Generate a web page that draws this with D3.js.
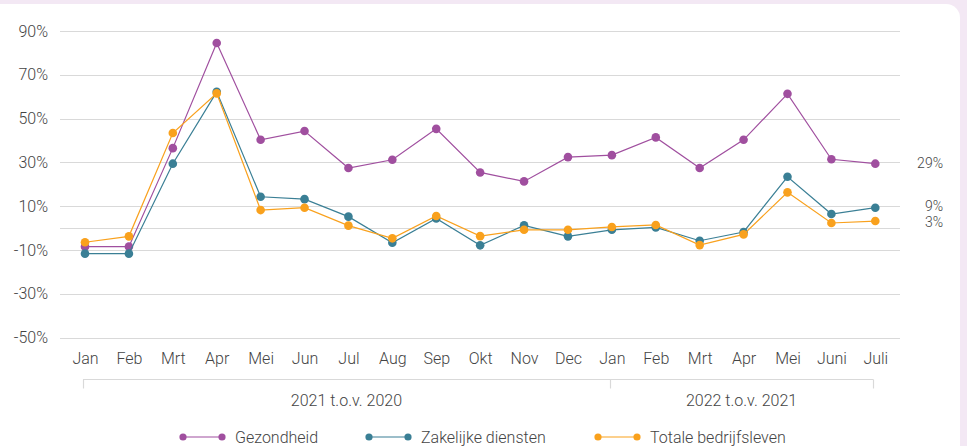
<!DOCTYPE html>
<html>
<head>
<meta charset="utf-8">
<script src="https://cdn.jsdelivr.net/npm/d3@7"></script>
<style>
  html,body{margin:0;padding:0;background:#f3e8f4;}
  #chart{position:absolute;left:0;top:4px;width:960px;height:442px;background:#fff;border-top-right-radius:14px;}
  svg{font-family:Roboto,"Noto Sans",sans-serif;font-weight:300;}
</style>
</head>
<body>
<div id="chart"></div>
<script>
// Maandelijkse verandering t.o.v. vorig jaar, per sector
const months = ['Jan','Feb','Mrt','Apr','Mei','Jun','Jul','Aug','Sep','Okt','Nov','Dec',
                'Jan','Feb','Mrt','Apr','Mei','Juni','Juli'];
const gezondheid = [-8.5,-8.5,36.5,84.5,40.3,44.3,27.4,31.2,45.3,25.4,21.3,32.4,33.3,41.4,27.4,40.3,61.3,31.4,29.4];
const zakelijk   = [-11.7,-11.7,29.4,62.2,14.3,13.2,5.2,-6.7,4.4,-7.9,1.2,-3.8,-0.8,0.3,-5.8,-1.8,23.4,6.4,9.3];
const totaal     = [-6.5,-3.8,43.4,61.5,8.2,9.3,1.1,-4.7,5.5,-3.7,-0.8,-0.8,0.5,1.4,-7.8,-2.9,16.3,2.3,3.2];
const seriesNames = ['Gezondheid','Zakelijke diensten','Totale bedrijfsleven'];
const endLabels = ['29%','9%','3%'];
const yTicks = [90,70,50,30,10,-10,-30,-50];
const groups = [
  {label:'2021 t.o.v. 2020', from:0, to:12},
  {label:'2022 t.o.v. 2021', from:12, to:18}
];

(function(){
  const colors = ['#a04f9f','#3a7f95','#f9a11d'];
  const series = [gezondheid, zakelijk, totaal];
  const W = 960, H = 442;
  const svg = d3.select('#chart').append('svg').attr('width',W).attr('height',H);

  const x = d3.scalePoint().domain(d3.range(months.length)).range([85,875.3]);
  const y = d3.scaleLinear().domain([-50,90]).range([333.5,27]);
  const gridX0 = 60, gridX1 = 900;

  // rasterlijnen
  const grid = svg.append('g');
  grid.selectAll('line').data(yTicks.concat([0])).enter().append('line')
    .attr('x1',gridX0).attr('x2',gridX1)
    .attr('y1',d=>Math.round(y(d))+0.5).attr('y2',d=>Math.round(y(d))+0.5)
    .attr('stroke','#d9d9d9').attr('stroke-width',1);

  // y-as labels
  const yAxis = svg.append('g').attr('transform',`translate(${gridX0-9},0)`)
    .call(d3.axisLeft(y).tickValues(yTicks).tickSize(0).tickFormat(d=>d+'%'));
  yAxis.select('.domain').remove();
  yAxis.selectAll('text').attr('font-size','16px').attr('fill','#444').attr('font-family','Roboto').attr('font-weight',300);

  // x-as labels
  const xAxis = svg.append('g').attr('transform','translate(0,346)')
    .call(d3.axisBottom(x).tickSize(0).tickFormat(i=>months[i]));
  xAxis.select('.domain').remove();
  xAxis.selectAll('text').attr('font-size','16px').attr('fill','#444').attr('font-family','Roboto').attr('font-weight',300);

  // groepering
  const gy = 375.5;
  const bx = i=>x(i)-2;
  const br = svg.append('g').attr('stroke','#d9d9d9').attr('stroke-width',1.2);
  br.append('line').attr('x1',bx(0)).attr('x2',bx(18)).attr('y1',gy).attr('y2',gy);
  [0,12,18].forEach(i=>{
    br.append('line').attr('x1',Math.round(bx(i))+0.5).attr('x2',Math.round(bx(i))+0.5).attr('y1',gy).attr('y2',gy+9);
  });
  svg.selectAll('.grp').data(groups).enter().append('text')
    .attr('x',d=>(bx(d.from)+bx(d.to))/2).attr('y',402)
    .attr('text-anchor','middle').attr('font-size','16px').attr('fill','#444')
    .text(d=>d.label);

  // lijnen en punten
  const line = d3.line().x((d,i)=>x(i)).y(d=>y(d));
  series.forEach((s,k)=>{
    svg.append('path').datum(s).attr('d',line).attr('fill','none')
      .attr('stroke',colors[k]).attr('stroke-width',1.2);
    svg.append('g').selectAll('circle').data(s).enter().append('circle')
      .attr('cx',(d,i)=>x(i)).attr('cy',d=>y(d)).attr('r',4.3).attr('fill',colors[k]);
  });

  // eindlabels
  svg.selectAll('.endlbl').data(series).enter().append('text')
    .attr('x',943).attr('y',(s,k)=>y(s[s.length-1]) + [-1,-2,1.5][k])
    .attr('dy','0.35em').attr('text-anchor','end')
    .attr('font-size','14px').attr('fill','#444')
    .text((s,k)=>endLabels[k]);

  // legenda
  const legX = [183,369,598];
  const ly = 433;
  const leg = svg.append('g');
  seriesNames.forEach((n,k)=>{
    const g = leg.append('g').attr('transform',`translate(${legX[k]},${ly})`);
    g.append('line').attr('x1',0).attr('x2',39).attr('y1',0).attr('y2',0)
      .attr('stroke',colors[k]).attr('stroke-width',1.2);
    g.append('circle').attr('cx',0).attr('cy',0).attr('r',3.6).attr('fill',colors[k]);
    g.append('circle').attr('cx',39).attr('cy',0).attr('r',3.6).attr('fill',colors[k]);
    g.append('text').attr('x',52).attr('y',0).attr('dy','0.35em')
      .attr('font-size','16px').attr('fill','#444').text(n);
  });
})();
</script>
</body>
</html>
